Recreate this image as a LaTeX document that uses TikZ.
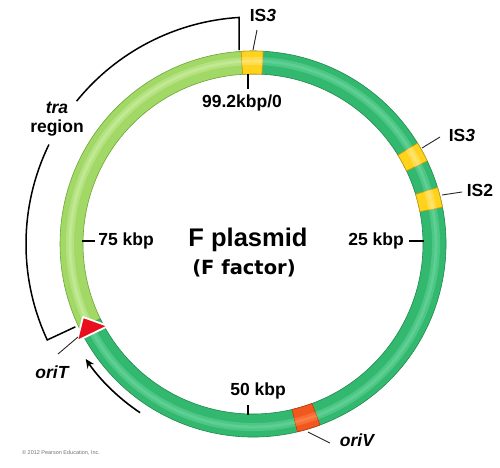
\documentclass[tikz,border=0pt]{standalone}
\usepackage{fontspec}
\setmainfont{Liberation Sans}
\newfontfamily\factorfont{DejaVu Sans}
\usetikzlibrary{arrows.meta,positioning}
\definecolor{traFill}{HTML}{A2D866}
\definecolor{traEdge}{HTML}{6DA53A}
\definecolor{traHigh}{HTML}{CDEFA4}
\definecolor{plasFill}{HTML}{33B870}
\definecolor{plasEdge}{HTML}{1F8A4E}
\definecolor{plasHigh}{HTML}{6FD9A0}
\definecolor{isFill}{HTML}{FFD21C}
\definecolor{isEdge}{HTML}{D49A00}
\definecolor{isHigh}{HTML}{FFE98A}
\definecolor{oriFill}{HTML}{F2571E}
\definecolor{oriEdge}{HTML}{C43A0E}
\definecolor{oriHigh}{HTML}{FF8E55}
\definecolor{oriTred}{HTML}{E8101C}
\newcommand{\rOut}{193}
\newcommand{\rIn}{170}
\newcommand{\rMid}{183}
% ring segment: start angle, end angle, fill, edge, highlight
\newcommand{\ringpart}[5]{%
  \filldraw[fill=#3, draw=#4, line width=0.6pt]
    (#1:\rOut) arc[start angle=#1, end angle=#2, radius=\rOut]
    -- (#2:\rIn) arc[start angle=#2, end angle=#1, radius=\rIn] -- cycle;
  \draw[#5, line width=8pt, opacity=0.45]
    (#1:\rMid) arc[start angle=#1, end angle=#2, radius=\rMid];
  \draw[#5, line width=3pt, opacity=0.5]
    (#1:\rMid) arc[start angle=#1, end angle=#2, radius=\rMid];
}
\tikzset{
  lbl/.style = {font=\fontsize{17.5}{19}\selectfont\bfseries, inner sep=0pt},
  leader/.style = {draw=black!85, line width=0.9pt},
  tickmark/.style = {draw=black, line width=1.4pt},
  bracket/.style = {draw=black, line width=1.5pt},
  transfer/.style = {draw=black, line width=1.6pt, -{Stealth[length=9pt, width=8pt]}}
}
\begin{document}
\begin{tikzpicture}[x=1pt, y=1pt]
  \useasboundingbox (-253,-223) rectangle (247,244);
  % plasmid ring
  \ringpart{206}{453.5}{plasFill}{plasEdge}{plasHigh}
  \ringpart{93.5}{206}{traFill}{traEdge}{traHigh}
  \ringpart{87}{93.5}{isFill}{isEdge}{isHigh}
  \ringpart{25.5}{31.5}{isFill}{isEdge}{isHigh}
  \ringpart{11}{17}{isFill}{isEdge}{isHigh}
  \ringpart{-76.7}{-69.7}{oriFill}{oriEdge}{oriHigh}
  % oriT
  \filldraw[fill=oriTred, draw=white, line width=1.8pt, line join=round]
    (-176,-97) -- (-170,-73) -- (-145,-82) -- cycle;
  % centre text
  \node[font=\fontsize{25.5}{27}\selectfont\bfseries] (title) at (-5,4) {F plasmid};
  \node[font=\factorfont\fontsize{19.5}{22}\selectfont\bfseries] (factor) at (-9,-24) {(F factor)};
  % kbp marks
  \node[lbl] (k0) at (-11,141) {99.2kbp/0};
  \coordinate (k0a) at (-5,170);
  \coordinate (k0b) at (-5,155);
  \draw[tickmark] (k0a) -- (k0b);
  \node[lbl] (k25) at (123,3) {25 kbp};
  \coordinate (k25a) at (171,3);
  \coordinate (k25b) at (156,3);
  \draw[tickmark] (k25a) -- (k25b);
  \node[lbl] (k50) at (5,-147) {50 kbp};
  \coordinate (k50a) at (-5,-171);
  \coordinate (k50b) at (-5,-161);
  \draw[tickmark] (k50a) -- (k50b);
  \node[lbl] (k75) at (-127,3) {75 kbp};
  \coordinate (k75a) at (-171,3);
  \coordinate (k75b) at (-158,3);
  \draw[tickmark] (k75a) -- (k75b);
  % insertion sequences and origins
  \node[lbl] (is3top) at (10,229) {IS\textit{3}};
  \coordinate (is3topa) at (0,194);
  \coordinate (is3topb) at (4,214);
  \draw[leader] (is3topa) -- (is3topb);
  \node[lbl] (is3side) at (209,109) {IS\textit{3}};
  \coordinate (is3sidea) at (169,96);
  \coordinate (is3sideb) at (187,107);
  \draw[leader] (is3sidea) -- (is3sideb);
  \node[lbl] (is2) at (227,54) {IS2};
  \coordinate (is2a) at (189,49);
  \coordinate (is2b) at (209,52);
  \draw[leader] (is2a) -- (is2b);
  \node[lbl, font=\fontsize{17.5}{19}\selectfont\bfseries\itshape] (oriV) at (104,-196) {oriV};
  \coordinate (oriVa) at (55,-188);
  \coordinate (oriVb) at (77,-199);
  \draw[leader] (oriVa) -- (oriVb);
  \node[lbl, font=\fontsize{17.5}{19}\selectfont\bfseries\itshape] (oriT) at (-201,-128) {oriT};
  \coordinate (oriTa) at (-175,-93);
  \coordinate (oriTb) at (-195,-110);
  \draw[leader] (oriTa) -- (oriTb);
  % tra region bracket
  \node[lbl, align=center] (tra) at (-196,125) {\textit{tra}\\region};
  \coordinate (traTop) at (-14,194);
  \coordinate (traBot) at (205:196);
  \draw[bracket] (traTop) -- (93.5:227) arc[start angle=93.5, end angle=141, radius=227];
  \draw[bracket] (154:227) arc[start angle=154, end angle=205, radius=227] -- (traBot);
  % direction of transfer
  \coordinate (dirA) at (236.2:203);
  \draw[transfer] (dirA) arc[start angle=236.2, end angle=214.5, radius=203];
  % credit
  \node[font=\fontsize{5.5}{6}\selectfont, text=black!55] (credit) at (-192,-209) {\textcopyright{} 2012 Pearson Education, Inc.};
\end{tikzpicture}
\end{document}
